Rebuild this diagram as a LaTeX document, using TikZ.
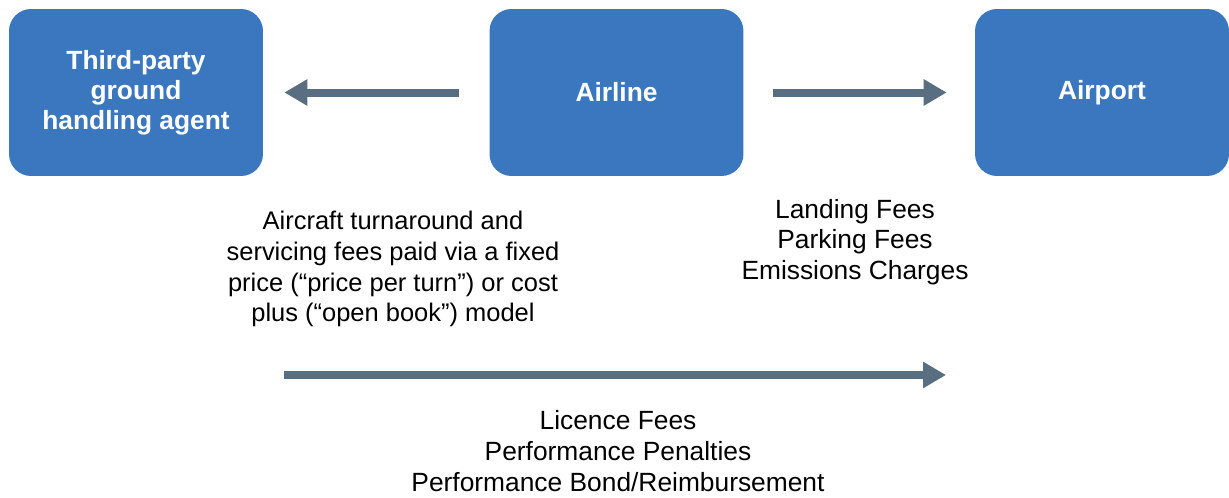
\documentclass[tikz,border=0pt]{standalone}
\usepackage{fontspec}
\setmainfont{Liberation Sans}
\usetikzlibrary{arrows.meta}
\definecolor{boxblue}{HTML}{3A77BE}
\definecolor{slate}{HTML}{596E80}
\begin{document}
\begin{tikzpicture}[x=0.02cm, y=-0.02cm, font=\fontsize{15}{17.5}\selectfont,
    party/.style={fill=boxblue, text=white, font=\fontsize{15}{17.2}\selectfont\bfseries,
      rounded corners=0.44cm, minimum width=5.08cm, minimum height=3.34cm,
      align=center, inner sep=0pt},
    flow/.style={slate, line width=0.16cm, -{Triangle[width=0.5cm, length=0.46cm]}},
    note/.style={align=center, inner sep=0pt}]
  \useasboundingbox (0,0) rectangle (1229,497);
  % the three parties
  \node[party] (agent) at (136,92.5) {Third-party\\ground\\handling agent};
  \node[party] (airline) at (616.5,92.5) {Airline};
  \node[party] (airport) at (1102,92.5) {Airport};
  % payments between them
  \draw[flow, shorten <=0.6cm, shorten >=0.42cm] (airline) -- (agent);
  \draw[flow, shorten <=0.58cm, shorten >=0.56cm] (airline) -- (airport);
  \coordinate (feesfrom) at (284,375);
  \coordinate (feesto) at (946,375);
  \draw[flow] (feesfrom) -- (feesto);
  % what is paid
  \node[note, font=\fontsize{14.5}{17.6}\selectfont] (handling) at (393,269)
    {Aircraft turnaround and\\servicing fees paid via a fixed\\price (“price per turn”) or cost\\plus (“open book”) model};
  \node[note] (airportfees) at (855,242)
    {Landing Fees\\Parking Fees\\Emissions Charges};
  \node[note] (licence) at (618,451)
    {Licence Fees\\Performance Penalties\\Performance Bond/Reimbursement};
\end{tikzpicture}
\end{document}
